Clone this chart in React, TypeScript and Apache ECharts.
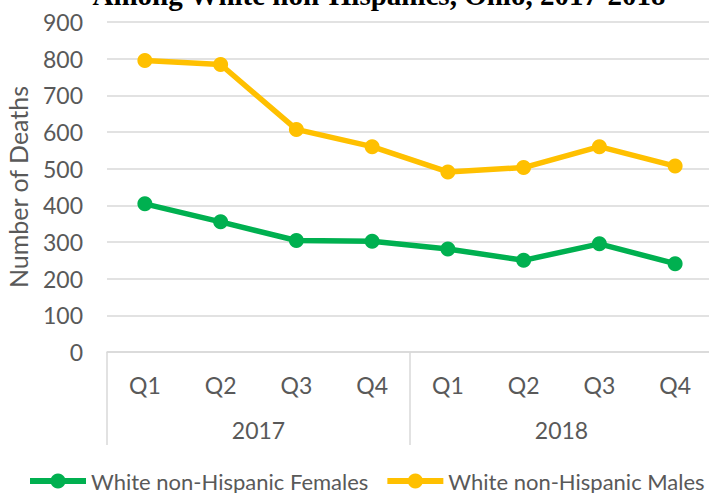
import React, { useEffect, useRef } from "react";
import * as echarts from "echarts";

const quarters = ["Q1", "Q2", "Q3", "Q4", "Q1", "Q2", "Q3", "Q4"];
const years = ["2017", "2018"];
const females = [404, 355, 304, 302, 281, 250, 295, 241];
const males = [795, 784, 607, 560, 491, 503, 560, 507];
const seriesNames = ["White non-Hispanic Females", "White non-Hispanic Males"];
const titleText = "Among White non-Hispanics, Ohio, 2017-2018";
const yName = "Number of Deaths";

const FONT = "Lato";
const GREY = "#595959";
const GRID = "#d9d9d9";

export default function App() {
  const ref = useRef<HTMLDivElement>(null);
  useEffect(() => {
    if (!ref.current) return;
    const chart = echarts.init(ref.current, null, { renderer: "svg" });
    chart.setOption({
      animation: false,
      backgroundColor: "#ffffff",
      textStyle: { fontFamily: FONT },
      graphic: [
        {
          type: "text",
          x: 379,
          y: -5,
          style: {
            text: titleText,
            font: 'bold 29px "Liberation Serif"',
            fill: "#000000",
            textAlign: "center",
            textVerticalAlign: "middle",
          },
        },
      ],
      grid: {
        left: 107,
        right: -4,
        top: 22,
        bottom: 141,
        containLabel: false,
        outerBoundsMode: "none",
      },
      legend: {
        left: 27,
        top: 470,
        width: 682,
        padding: 0,
        itemWidth: 56,
        itemHeight: 19,
        itemGap: 16,
        lineStyle: { width: 6 },
        textStyle: { fontFamily: FONT, fontSize: 22, color: GREY },
        data: seriesNames,
      },
      xAxis: [
        {
          type: "category",
          data: quarters,
          boundaryGap: true,
          position: "bottom",
          axisLine: { show: true, lineStyle: { color: GRID, width: 1.5 } },
          axisTick: { show: false },
          axisLabel: { fontFamily: FONT, fontSize: 23, color: GREY, margin: 21, interval: 0 },
        },
        {
          type: "category",
          data: years,
          boundaryGap: true,
          position: "bottom",
          axisLine: { show: false },
          axisTick: { show: true, length: 93, interval: 0, lineStyle: { color: GRID, width: 1.5 } },
          axisLabel: { fontFamily: FONT, fontSize: 23, color: GREY, margin: 66, interval: 0 },
        },
      ],
      yAxis: {
        type: "value",
        min: 0,
        max: 900,
        interval: 100,
        name: yName,
        nameLocation: "middle",
        nameGap: 77,
        nameTextStyle: { fontFamily: FONT, fontSize: 25, color: GREY },
        axisLine: { show: false },
        axisTick: { show: false },
        axisLabel: { fontFamily: FONT, fontSize: 23, color: GREY, margin: 24 },
        splitLine: { lineStyle: { color: GRID, width: 1.5 } },
      },
      series: [
        {
          name: seriesNames[0],
          type: "line",
          data: females,
          xAxisIndex: 0,
          symbol: "circle",
          symbolSize: 15,
          color: "#00B050",
          lineStyle: { width: 5.5, color: "#00B050" },
          itemStyle: { color: "#00B050" },
        },
        {
          name: seriesNames[1],
          type: "line",
          data: males,
          xAxisIndex: 0,
          symbol: "circle",
          symbolSize: 15,
          color: "#FFC000",
          lineStyle: { width: 5.5, color: "#FFC000" },
          itemStyle: { color: "#FFC000" },
        },
      ],
    });
    return () => chart.dispose();
  }, []);
  return (
    <div
      ref={ref}
      style={{ position: "absolute", left: 0, top: 0, width: 709, height: 493 }}
    />
  );
}
